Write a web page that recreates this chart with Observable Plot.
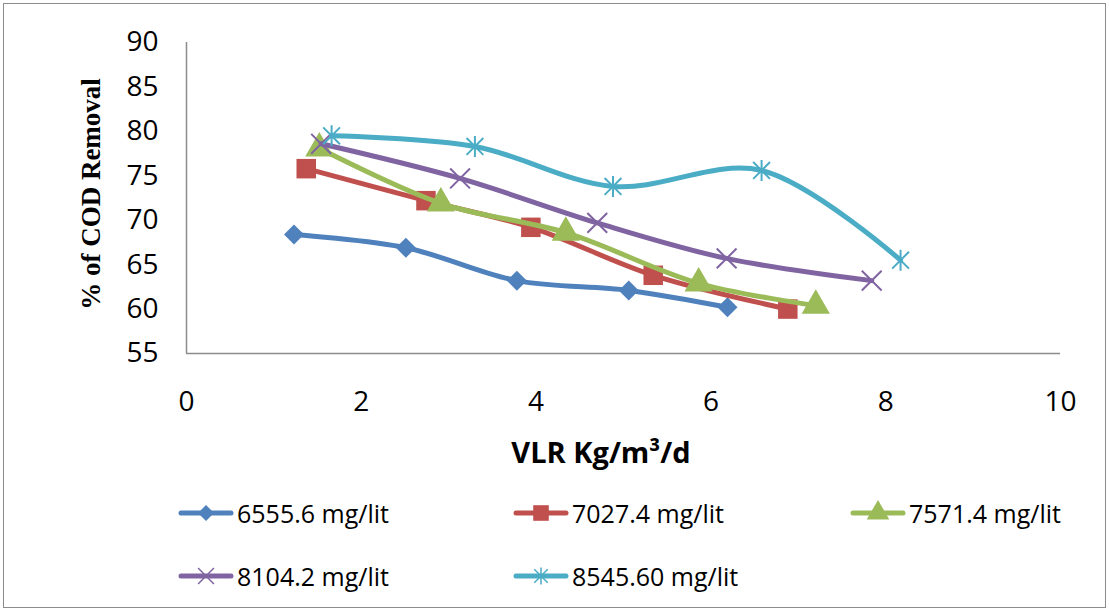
<!DOCTYPE html>
<html>
<head>
<meta charset="utf-8">
<script src="https://cdn.jsdelivr.net/npm/d3@7"></script>
<script src="https://cdn.jsdelivr.net/npm/@observablehq/plot@0.6"></script>
<style>
  html, body { margin: 0; padding: 0; background: #fff; }
  #frame { position: absolute; left: 3px; top: 3px; width: 1101px; height: 603px; border: 1.5px solid #8c8c8c; }
  #chart { position: absolute; left: 0; top: 0; }
  .ytitle { position: absolute; left: 91px; top: 194px; transform: translate(-50%, -50%) rotate(-90deg); font-family: "Liberation Serif", serif; font-weight: bold; font-size: 27px; white-space: nowrap; color: #000; }
  .xtitle { position: absolute; left: 601px; top: 451px; transform: translate(-50%, -50%); font-family: "Open Sans", sans-serif; font-weight: bold; font-size: 29px; white-space: nowrap; color: #000; }
  .legend { position: absolute; font-family: "Open Sans", sans-serif; font-size: 25px; color: #000; display: flex; align-items: center; white-space: nowrap; }
  .legend svg { margin-right: 3px; }
</style>
</head>
<body>
<div id="frame"></div>
<div id="chart"></div>
<div class="ytitle">% of COD Removal</div>
<div class="xtitle">VLR Kg/m³/d</div>
<div id="legends"></div>
<script>
// ---- data ----
const seriesNames = ["6555.6 mg/lit", "7027.4 mg/lit", "7571.4 mg/lit", "8104.2 mg/lit", "8545.60 mg/lit"];
const seriesColors = ["#4F81BD", "#C0504D", "#9BBB59", "#8064A2", "#4BACC6"];

const vlr1 = [1.23, 2.51, 3.78, 5.06, 6.19];
const cod1 = [68.4, 66.9, 63.2, 62.1, 60.2];
const vlr2 = [1.37, 2.74, 3.94, 5.34, 6.88];
const cod2 = [75.8, 72.2, 69.2, 63.8, 60.0];
const vlr3 = [1.52, 2.91, 4.34, 5.86, 7.20];
const cod3 = [78.1, 71.9, 68.6, 62.9, 60.4];
const vlr4 = [1.54, 3.13, 4.70, 6.18, 7.84];
const cod4 = [78.6, 74.7, 69.7, 65.7, 63.2];
const vlr5 = [1.66, 3.30, 4.88, 6.58, 8.17];
const cod5 = [79.5, 78.3, 73.8, 75.6, 65.5];

const xTicks = [0, 2, 4, 6, 8, 10];
const yTicks = [55, 60, 65, 70, 75, 80, 85, 90];

const vlrs = [vlr1, vlr2, vlr3, vlr4, vlr5];
const cods = [cod1, cod2, cod3, cod4, cod5];

// Excel-style star marker: vertical bar plus an X
const excelStar = {
  draw(context, size) {
    const r = Math.sqrt(size / Math.PI);
    const d = r * 0.8;
    context.moveTo(0, -r); context.lineTo(0, r);
    context.moveTo(-d, -d); context.lineTo(d, d);
    context.moveTo(-d, d); context.lineTo(d, -d);
  }
};
const excelX = {
  draw(context, size) {
    const d = Math.sqrt(size / Math.PI) * 0.9;
    context.moveTo(-d, -d); context.lineTo(d, d);
    context.moveTo(-d, d); context.lineTo(d, -d);
  }
};
const seriesSymbols = [d3.symbolDiamond2, d3.symbolSquare, d3.symbolTriangle, excelX, excelStar];
const symbolR = [9, 11, 10.5, 11, 10.5];
const isStroke = [false, false, false, true, true];

// ---- chart ----
const marks = [
  Plot.ruleY([55], {stroke: "#8c8c8c", strokeWidth: 1.5}),
  Plot.ruleX([0], {stroke: "#8c8c8c", strokeWidth: 1.5}),
  Plot.axisX({ticks: xTicks, tickSize: 0, tickPadding: 38, label: null, fontSize: 28}),
  Plot.axisY({ticks: yTicks, tickSize: 0, tickPadding: 28, label: null, fontSize: 28})
];
seriesNames.forEach((name, i) => {
  const data = vlrs[i].map((x, j) => ({x, y: cods[i][j]}));
  marks.push(Plot.line(data, {x: "x", y: "y", stroke: seriesColors[i], strokeWidth: 5, curve: "catmull-rom", strokeLinejoin: "round", strokeLinecap: "round"}));
  marks.push(Plot.dot(data, isStroke[i]
    ? {x: "x", y: "y", symbol: seriesSymbols[i], r: symbolR[i], stroke: seriesColors[i], strokeWidth: 2, fill: "none"}
    : {x: "x", y: "y", symbol: seriesSymbols[i], r: symbolR[i], fill: seriesColors[i], stroke: "none"}));
});

const chart = Plot.plot({
  width: 1109,
  height: 470,
  marginLeft: 186,
  marginRight: 49,
  marginTop: 42,
  marginBottom: 117,
  x: {domain: [0, 10]},
  y: {domain: [55, 90]},
  style: {fontFamily: "Open Sans, sans-serif", fontSize: "28px", color: "#000", background: "transparent"},
  marks
});
document.getElementById("chart").appendChild(chart);

// ---- legend ----
const legendPos = [[178, 513], [513, 513], [850, 513], [178, 576], [513, 576]];
const legendHost = document.getElementById("legends");
seriesNames.forEach((name, i) => {
  const div = document.createElement("div");
  div.className = "legend";
  div.style.left = legendPos[i][0] + "px";
  div.style.top = (legendPos[i][1] - 18) + "px";
  const svg = d3.create("svg").attr("width", 56).attr("height", 36);
  svg.append("line").attr("x1", 3).attr("x2", 53).attr("y1", 18).attr("y2", 18)
    .attr("stroke", seriesColors[i]).attr("stroke-width", 5).attr("stroke-linecap", "round");
  const r = symbolR[i] * 0.8;
  const p = svg.append("path").attr("transform", "translate(28,18)")
    .attr("d", d3.symbol(seriesSymbols[i], Math.PI * r * r)());
  if (isStroke[i]) p.attr("fill", "none").attr("stroke", seriesColors[i]).attr("stroke-width", 1.5);
  else p.attr("fill", seriesColors[i]);
  div.appendChild(svg.node());
  const span = document.createElement("span");
  span.textContent = name;
  div.appendChild(span);
  legendHost.appendChild(div);
});
</script>
</body>
</html>
